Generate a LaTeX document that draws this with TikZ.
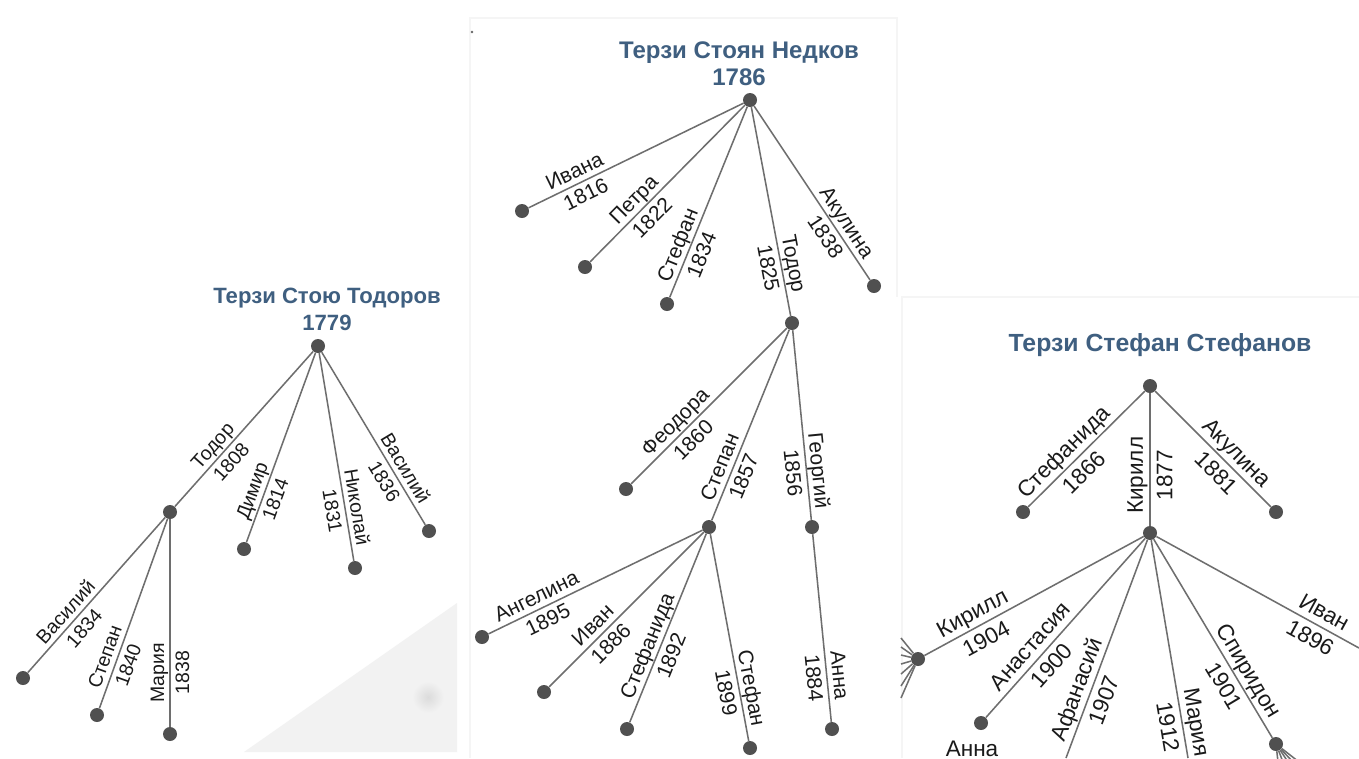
\documentclass[tikz,border=0pt]{standalone}
\usepackage{fontspec}
\setmainfont{Liberation Sans}
\definecolor{titlec}{HTML}{3F5F80}
\definecolor{dotc}{HTML}{505050}
\definecolor{linec}{HTML}{6E6E6E}
\definecolor{textc}{HTML}{1A1A1A}
\newcommand\kid[6]{\draw[edge] (#1) -- node[#3,pos=#4]{#5\\#6} (#2);}
\begin{document}
\begin{tikzpicture}[x=0.75pt,y=-0.75pt,
  dot/.style={circle,fill=dotc,inner sep=0pt,minimum size=10.5pt},
  edge/.style={draw=linec,line width=1.15pt},
  lab/.style={sloped,align=center,inner sep=0pt,text=textc},
  labL/.style={lab,font=\fontsize{14.6}{18.7}\selectfont},
  labM/.style={lab,font=\fontsize{15.75}{19.5}\selectfont},
  labR/.style={lab,font=\fontsize{16.9}{22}\selectfont},
  ttl/.style={align=center,text=titlec},
  ttlL/.style={ttl,font=\bfseries\fontsize{16.6}{20.25}\selectfont},
  ttlM/.style={ttl,font=\bfseries\fontsize{18}{20.25}\selectfont},
  ttlR/.style={ttl,font=\bfseries\fontsize{18.6}{22}\selectfont},
  panel/.style={draw=black!4,line width=0.8pt}
]
\useasboundingbox (0,0) rectangle (1359,758);
\clip (0,0) rectangle (1359,758);
\fill[white] (0,0) rectangle (1359,758);
% background details
\fill[black!5] (457,603) -- (244,752) -- (457,752) -- cycle;
\shade[inner color=black!14,outer color=black!5] (428,697) circle (16);
\draw[panel] (470,758) -- (470,18) -- (897,18) -- (897,297);
\draw[panel] (902,758) -- (902,297) -- (1359,297);
\fill[black!60] (472,32) circle (1.3);

% ---------- left tree ----------
\node[ttlL] (LT) at (327,309.5) {Терзи Стою Тодоров\\1779};
\node[dot] (L0) at (318,346) {};
\node[dot] (L1) at (170,512) {};
\node[dot] (L2) at (244,549) {};
\node[dot] (L3) at (355,568) {};
\node[dot] (L4) at (429,531) {};
\node[dot] (L11) at (23,678) {};
\node[dot] (L12) at (97,715) {};
\node[dot] (L13) at (170,734) {};
\kid{L1}{L0}{labL}{0.34}{Тодор}{1808}
\kid{L2}{L0}{labL}{0.25}{Димир}{1814}
\kid{L3}{L0}{labL}{0.25}{Николай}{1831}
\kid{L4}{L0}{labL}{0.29}{Василий}{1836}
\kid{L11}{L1}{labL}{0.34}{Василий}{1834}
\kid{L12}{L1}{labL}{0.25}{Степан}{1840}
\kid{L13}{L1}{labL}{0.26}{Мария}{1838}

% ---------- middle tree ----------
\node[ttlM] (MT) at (739,63.5) {Терзи Стоян Недков\\1786};
\node[dot] (M0) at (750,100) {};
\node[dot] (M1) at (522,211) {};
\node[dot] (M2) at (585,267) {};
\node[dot] (M3) at (667,304) {};
\node[dot] (M4) at (792,323) {};
\node[dot] (M5) at (874,286) {};
\node[dot] (M41) at (626,489) {};
\node[dot] (M42) at (709,527) {};
\node[dot] (M43) at (812,527) {};
\node[dot] (M421) at (482,637) {};
\node[dot] (M422) at (544,692) {};
\node[dot] (M423) at (627,729) {};
\node[dot] (M424) at (750,748) {};
\node[dot] (M431) at (832,729) {};
\kid{M1}{M0}{labM}{0.24}{Ивана}{1816}
\kid{M2}{M0}{labM}{0.34}{Петра}{1822}
\kid{M3}{M0}{labM}{0.25}{Стефан}{1834}
\kid{M4}{M0}{labM}{0.24}{Тодор}{1825}
\kid{M5}{M0}{labM}{0.29}{Акулина}{1838}
\kid{M41}{M4}{labM}{0.34}{Феодора}{1860}
\kid{M42}{M4}{labM}{0.255}{Степан}{1857}
\kid{M43}{M4}{labM}{0.255}{Георгий}{1856}
\kid{M421}{M42}{labM}{0.25}{Ангелина}{1895}
\kid{M422}{M42}{labM}{0.34}{Иван}{1886}
\kid{M423}{M42}{labM}{0.38}{Стефанида}{1892}
\kid{M424}{M42}{labM}{0.245}{Стефан}{1899}
\kid{M431}{M43}{labM}{0.24}{Анна}{1884}

% ---------- right tree ----------
\node[ttlR,anchor=base] (RT) at (1160,351) {Терзи Стефан Стефанов};
\node[dot] (R0) at (1150,386) {};
\node[dot] (R1) at (1023,512) {};
\node[dot] (R2) at (1150,533) {};
\node[dot] (R3) at (1276,512) {};
\node[dot] (R21) at (918,659) {};
\node[dot] (R22) at (981,723) {};
\coordinate (R23) at (1066,758);
\coordinate (R24) at (1188,758);
\node[dot] (R25) at (1276,744) {};
\coordinate (R26) at (1359,648);
\node[dot] (R27) at (917,766) {};
\node[font=\fontsize{16.9}{20}\selectfont,text=textc,anchor=base] (RA) at (972,756) {Анна};
\kid{R1}{R0}{labR}{0.39}{Стефанида}{1866}
\kid{R2}{R0}{labR}{0.38}{Кирилл}{1877}
\kid{R3}{R0}{labR}{0.38}{Акулина}{1881}
\kid{R21}{R2}{labR}{0.25}{Кирилл}{1904}
\kid{R22}{R2}{labR}{0.345}{Анастасия}{1900}
\kid{R23}{R2}{labR}{0.29}{Афанасий}{1907}
\kid{R24}{R2}{labR}{0.154}{Мария}{1912}
\kid{R25}{R2}{labR}{0.30}{Спиридон}{1901}
\kid{R26}{R2}{labR}{0.206}{Иван}{1896}
\foreach \i/\yy in {1/638,2/647,3/655,4/664,5/674,6/686,7/698}{
  \coordinate (fa\i) at (901,\yy);
  \draw[edge] (R21) -- (fa\i);
}
\foreach \i/\xx in {1/1278,2/1283,3/1288,4/1293,5/1299}{
  \coordinate (fs\i) at (\xx,762);
  \draw[edge] (R25) -- (fs\i);
}
\end{tikzpicture}
\end{document}
